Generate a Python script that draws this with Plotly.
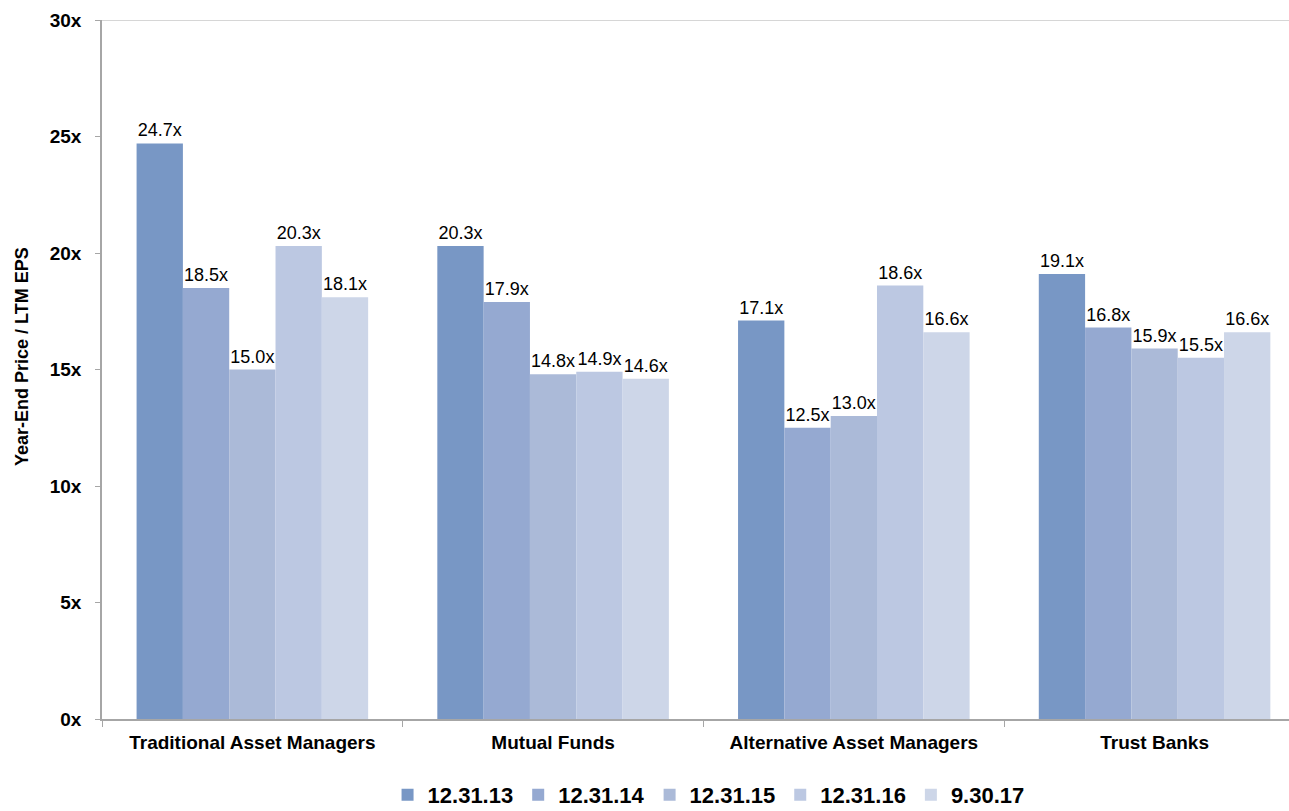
import plotly.graph_objects as go

categories = ["Traditional Asset Managers", "Mutual Funds", "Alternative Asset Managers", "Trust Banks"]
series_names = ["12.31.13", "12.31.14", "12.31.15", "12.31.16", "9.30.17"]
v_123113 = [24.7, 20.3, 17.1, 19.1]
v_123114 = [18.5, 17.9, 12.5, 16.8]
v_123115 = [15.0, 14.8, 13.0, 15.9]
v_123116 = [20.3, 14.9, 18.6, 15.5]
v_93017 = [18.1, 14.6, 16.6, 16.6]
series_values = [v_123113, v_123114, v_123115, v_123116, v_93017]
colors = ["#7897C5", "#95A9D1", "#ABBAD8", "#BCC8E2", "#CDD6E8"]
y_ticks = [0, 5, 10, 15, 20, 25, 30]
y_ticktext = ["0x", "5x", "10x", "15x", "20x", "25x", "30x"]
y_title = "Year-End Price / LTM EPS"

FONT = "Liberation Sans, Arial, sans-serif"
W, H = 1289, 811
L, R, T, B = 102, 0, 20, 92
pw, ph = W - L - R, H - T - B

fig = go.Figure()
for name, vals, col in zip(series_names, series_values, colors):
    fig.add_trace(go.Bar(
        x=categories, y=vals, name=name,
        marker=dict(color=col, line=dict(width=0)),
        texttemplate="%{y:.1f}x", textposition="outside",
        textfont=dict(family=FONT, size=18, color="#000000"),
        cliponaxis=False, constraintext="none",
    ))

fig.update_layout(
    width=W, height=H,
    margin=dict(l=L, r=R, t=T, b=B, autoexpand=False),
    paper_bgcolor="white", plot_bgcolor="white",
    barmode="group", bargap=0.23, bargroupgap=0,
    font=dict(family=FONT, color="#000000"),
    showlegend=True,
    legend=dict(orientation="h", x=0.511, xanchor="center", y=-(795 - (H - B)) / ph,
                yanchor="middle",
                font=dict(family=FONT, size=22, weight="bold", color="#000000"),
                itemwidth=30, traceorder="normal"),
    xaxis=dict(type="category", range=[-0.5, 3.447], showgrid=False, automargin=False,
               showline=True, linecolor="#A6A6A6", linewidth=1.5,
               ticks="outside", tickson="boundaries", ticklen=6, tickcolor="#A6A6A6",
               tickfont=dict(family=FONT, size=19, weight="bold", color="#000000"),
               ticklabelstandoff=5),
    yaxis=dict(range=[0, 30], tickvals=y_ticks, ticktext=y_ticktext, showgrid=False,
               automargin=False,
               zeroline=False, showline=True, linecolor="#A6A6A6", linewidth=1.5,
               ticks="outside", ticklen=5, tickcolor="#A6A6A6",
               tickfont=dict(family=FONT, size=19, weight="bold", color="#000000"),
               ticklabelstandoff=10),
    annotations=[dict(text=y_title, xref="paper", yref="paper", x=(22 - L) / pw,
                      y=(ph - (357 - T)) / ph, xanchor="center", yanchor="middle",
                      textangle=-90, showarrow=False,
                      font=dict(family=FONT, size=18, weight="bold", color="#000000"))],
    shapes=[dict(type="line", xref="paper", yref="y", x0=0, x1=1, y0=30, y1=30,
                 line=dict(color="#C8C8C8", width=1.5), layer="below")],
)

fig.write_html("out.html")
